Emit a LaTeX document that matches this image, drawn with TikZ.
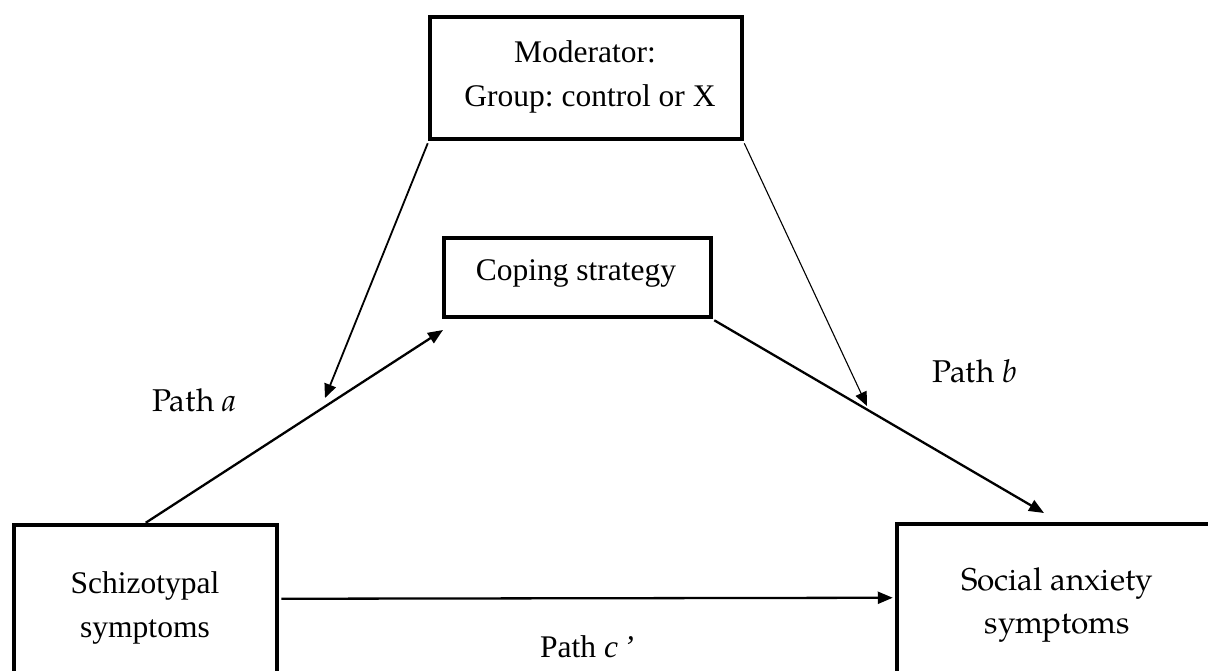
\documentclass[tikz,border=0pt]{standalone}
\usepackage{fontspec}
\setmainfont{Liberation Serif}
\newfontfamily\pal{texgyrepagella}[Extension=.otf,UprightFont=*-regular,ItalicFont=*-italic,BoldFont=*-bold]
\usetikzlibrary{arrows.meta,calc}
\frenchspacing
\begin{document}
\frenchspacing
\begin{tikzpicture}[x=1pt,y=-1pt,
  box/.style={draw,line width=4.5pt,inner sep=0pt,line join=miter},
  txt/.style={anchor=base,inner sep=0pt,font=\fontsize{31.5}{38}\selectfont},
  ptxt/.style={anchor=base,inner sep=0pt,font=\fontsize{31.5}{38}\selectfont\pal},
  mainarrow/.style={line width=2.3pt,-{Triangle[length=15pt,width=12pt]}},
  modarrow/.style={-{Triangle[length=14pt,width=12pt]}}
]
\useasboundingbox (0,0) rectangle (1208,670);
\clip (0,0) rectangle (1208,670);
% boxes
\node[box,minimum width=312pt,minimum height=122pt] (mod) at (586,78) {};
\node[box,minimum width=267pt,minimum height=79pt] (cope) at (577.5,277.5) {};
\node[box,minimum width=263pt,minimum height=195pt] (schizo) at (145.5,622.5) {};
\node[box,minimum width=363pt,minimum height=196pt] (social) at (1078.5,622) {};
% texts
\node[txt] (mod1) at (585,62) {Moderator:};
\node[txt] (mod2) at (590,106) {Group: control or X};
\node[txt] (cope1) at (576,280) {Coping strategy};
\node[txt] (sch1) at (145,593) {Schizotypal};
\node[txt] (sch2) at (145,637) {symptoms};
\node[ptxt] (soc1) at (1057,590) {Social anxiety};
\node[ptxt] (soc2) at (1057,633) {symptoms};
\node[ptxt,anchor=base west] (pa) at (152,411) {Path \textit{a}};
\node[ptxt,anchor=base west] (pb) at (932,382) {Path \textit{b}};
\node[txt] (pc) at (587,657) {Path \textit{c\,’}};
% free ends
\coordinate (tipA) at (443,330);
\coordinate (tipB) at (1044,513);
\coordinate (tipMA) at (325,398);
\coordinate (tipMB) at (867,406);
% connectors
\draw[mainarrow] ($(schizo.north west)+(134,0)$) -- (tipA);
\draw[mainarrow] ($(cope.south east)+(1,1)$) -- (tipB);
\draw[mainarrow] ($(schizo.north east)+(2,76)$) -- ($(social.north west)+(-2,76)$);
\draw[modarrow,line width=1.8pt] ($(mod.south west)+(0,2)$) -- (tipMA);
\draw[modarrow,line width=1.1pt] ($(mod.south east)+(0,2)$) -- (tipMB);
\end{tikzpicture}
\end{document}
